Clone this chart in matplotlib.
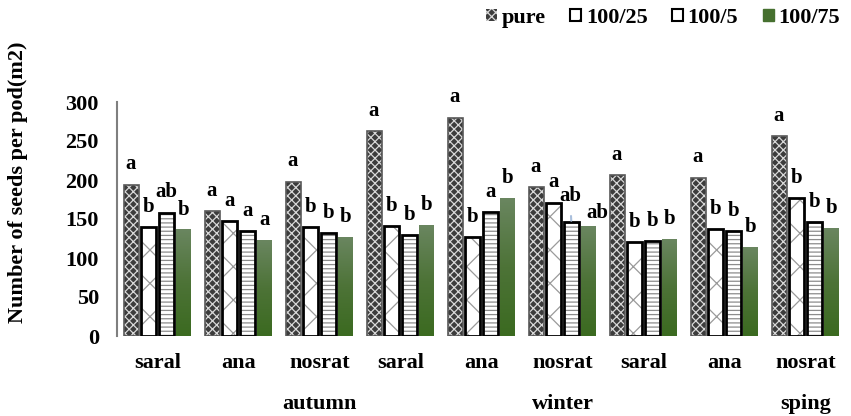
import numpy as np
import matplotlib
matplotlib.use("Agg")
import matplotlib.pyplot as plt
from matplotlib.patches import Patch
from matplotlib.colors import LinearSegmentedColormap

varieties = ["saral", "ana", "nosrat"] * 3
seasons = ["autumn", "winter", "sping"]
series = ["pure", "100/25", "100/5", "100/75"]

pure = [194, 160, 198, 263, 280, 191, 206, 203, 256]
p25 = [140, 147, 140, 141, 127, 171, 120, 137, 177]
p5 = [158, 134, 132, 129, 159, 146, 122, 134, 146]
p75 = [136, 123, 126, 142, 176, 141, 124, 114, 138]

let_pure = ["a"] * 9
let_p25 = ["b", "a", "b", "b", "b", "a", "b", "b", "b"]
let_p5 = ["ab", "a", "b", "b", "a", "ab", "b", "b", "b"]
let_p75 = ["b", "a", "b", "b", "b", "ab", "b", "b", "b"]

plt.rcParams['font.family'] = ['Liberation Serif', 'DejaVu Serif']
plt.rcParams['font.weight'] = 'bold'
plt.rcParams['hatch.linewidth'] = 0.9

fig = plt.figure(figsize=(8.51, 4.16), dpi=100)
ax = fig.add_axes([117 / 851, 80 / 416, 729 / 851, 234 / 416])

x = np.arange(len(varieties))
step = 0.218
w = 0.185
offs = [-1.5 * step, -0.5 * step, 0.5 * step, 1.5 * step]

# pure: dark with light crosshatch, grey border
ax.bar(x + offs[0], pure, w, color='#3c3c3c', hatch='xxxx', edgecolor='#d8d8d8', linewidth=0)
ax.bar(x + offs[0], pure, w, fill=False, edgecolor='#595959', linewidth=1.2)
# 100/25: white with zigzag, black border
ax.bar(x + offs[1], p25, w, color='white', hatch='x', edgecolor='#9a9a9a', linewidth=0)
ax.bar(x + offs[1], p25, w, fill=False, edgecolor='black', linewidth=2)
# 100/5: white with horizontal lines, black border
ax.bar(x + offs[2], p5, w, color='white', hatch='----', edgecolor='#8c8c8c', linewidth=0)
ax.bar(x + offs[2], p5, w, fill=False, edgecolor='black', linewidth=2)
# 100/75: green gradient
cmap = LinearSegmentedColormap.from_list('g', ['#3b6a20', '#4d7337', '#6a8660'])
grad = np.linspace(0, 1, 256).reshape(-1, 1)
for xi, h in zip(x + offs[3], p75):
    ax.imshow(grad, cmap=cmap, extent=(xi - w / 2, xi + w / 2, 0, h),
              origin='lower', aspect='auto', zorder=2)

ax.set_xlim(-0.5, len(varieties) - 0.5)
ax.set_ylim(0, 300)
ax.set_yticks(range(0, 301, 50))
ax.set_xticks(x)
ax.set_xticklabels(varieties)
ax.tick_params(axis='y', length=0, pad=13, labelsize=16)
ax.tick_params(axis='x', length=0, pad=12, labelsize=16)
for s in ['top', 'right', 'bottom']:
    ax.spines[s].set_visible(False)
ax.spines['left'].set_color('#7f7f7f')
ax.spines['left'].set_linewidth(1.5)

# significance letters
for k, (vals, labs) in enumerate([(pure, let_pure), (p25, let_p25), (p5, let_p5), (p75, let_p75)]):
    for i, (v, t) in enumerate(zip(vals, labs)):
        if k == 2 and i == 5:
            # label lifted with a leader line, as in the original
            ax.annotate(t, xy=(x[i] + offs[k], v), xytext=(-1, 15), textcoords='offset points',
                        ha='center', va='baseline', fontsize=15, fontweight='bold',
                        arrowprops=dict(arrowstyle='-', color='#a9bfdc', lw=1.5,
                                        shrinkA=5, shrinkB=1))
        elif k == 3 and i == 5:
            ax.annotate(t, xy=(x[i] + offs[k], v), xytext=(6, 6), textcoords='offset points',
                        ha='center', va='baseline', fontsize=15, fontweight='bold')
        else:
            ax.annotate(t, xy=(x[i] + offs[k], v), xytext=(0, 11), textcoords='offset points',
                        ha='center', va='baseline', fontsize=15, fontweight='bold')

# season labels under the last variety of each season
for j, s in enumerate(seasons):
    ax.text(x[3 * j + 2], -0.29, s, transform=ax.get_xaxis_transform(),
            ha='center', va='center', fontsize=16, fontweight='bold')

fig.text(18 / 851, 1 - 182 / 416, "Number of seeds per pod(m2)", rotation=90,
         ha='center', va='center', fontsize=16, fontweight='bold')

handles = [
    Patch(facecolor='#3c3c3c', hatch='xxxx', edgecolor='#d8d8d8', linewidth=0),
    Patch(facecolor='white', hatch='/', edgecolor='black', linewidth=1.5),
    Patch(facecolor='white', hatch='-', edgecolor='black', linewidth=1.5),
    Patch(facecolor='#46702f', edgecolor='#46702f'),
]
fig.legend(handles, series, loc='center right', bbox_to_anchor=(1.0, 1 - 18 / 416),
           ncol=4, frameon=False, fontsize=16, handlelength=0.5, handleheight=0.5,
           handletextpad=0.2, columnspacing=1.1, borderaxespad=0.1)

fig.savefig("out.png", dpi=100)
